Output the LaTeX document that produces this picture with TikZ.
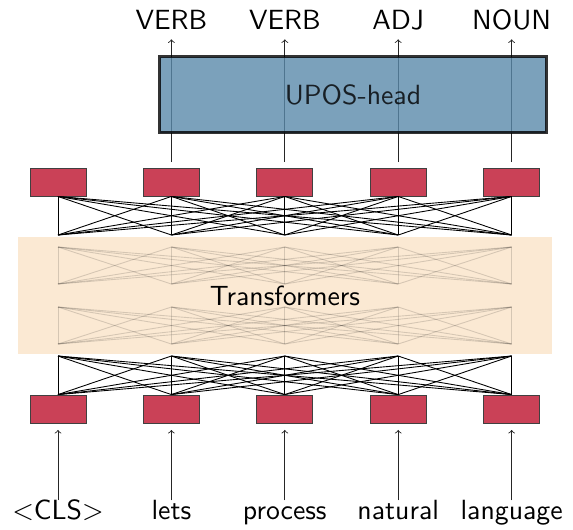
\documentclass[tikz,border=0pt]{standalone}
\usepackage{amsmath}
\usepackage{fontspec}
\setsansfont{lmsans10-regular.otf}
\definecolor{tokenred}{HTML}{CA4157}
\definecolor{headblue}{HTML}{5A89AA}
\definecolor{trafobg}{HTML}{FBE9D3}

\begin{document}
\begin{tikzpicture}[
            x=0.02cm, y=-0.02cm,
            font=\sffamily\fontsize{15.8}{19}\selectfont,
            token/.style={rectangle, draw=black!75, fill=tokenred, line width=0.5pt,
                          minimum width=1.12cm, minimum height=0.56cm, inner sep=0pt},
            head/.style={rectangle, draw=black, fill=headblue, opacity=0.8,
                         line width=1.6pt, minimum width=7.74cm, minimum height=1.52cm},
            trafo/.style={rectangle, fill=trafobg, minimum width=10.68cm,
                          minimum height=2.34cm},
            word/.style={inner sep=3.2pt, text height=0.72em, text depth=0.22em, anchor=base},
            link/.style={black, line width=0.5pt},
            faint/.style={black, opacity=0.15, line width=0.5pt},
            arrow/.style={->, >=to, black!85, line width=0.5pt}
        ]
            \useasboundingbox (0,0) rectangle (573,529);

            % transformer block
            \node[trafo] (trafo) at (285,295.5) {Transformers};

            \foreach \i [evaluate=\i as \xpos using 58+113.4*(\i-1)] in {1,...,5} {
                \node[token] (in\i) at (\xpos,409) {};
                \node[token] (out\i) at (\xpos,182) {};
                \coordinate (ta\i) at (\xpos,235);
                \coordinate (fa\i) at (\xpos,247);
                \coordinate (fb\i) at (\xpos,284);
                \coordinate (fc\i) at (\xpos,307);
                \coordinate (fd\i) at (\xpos,344);
                \coordinate (ba\i) at (\xpos,356);
            }

            % fully connected layers
            \foreach \i in {1,...,5} {
                \foreach \j in {1,...,5} {
                    \draw[link] (out\i.south) -- (ta\j);
                    \draw[faint] (fa\i) -- (fb\j);
                    \draw[faint] (fc\i) -- (fd\j);
                    \draw[link] (ba\i) -- (in\j.north);
                }
            }

            % input words
            \foreach \w [count=\i] in {{<CLS>}, lets, process, natural, language} {
                \node[word] (word\i) at (in\i |- 0,519) {\w};
                \draw[arrow, shorten >=3.7pt] (word\i.north) -- (in\i.south);
            }

            % output tags
            \foreach \t [count=\k from 2] in {VERB, VERB, ADJ, NOUN} {
                \node[word] (tag\k) at (out\k |- 0,29.5) {\t};
                \draw[arrow, shorten <=3.1pt] (out\k.north) -- (tag\k.south);
            }

            \node[head] (upos) at (353,94.5) {UPOS-head};
        \end{tikzpicture}
\end{document}
